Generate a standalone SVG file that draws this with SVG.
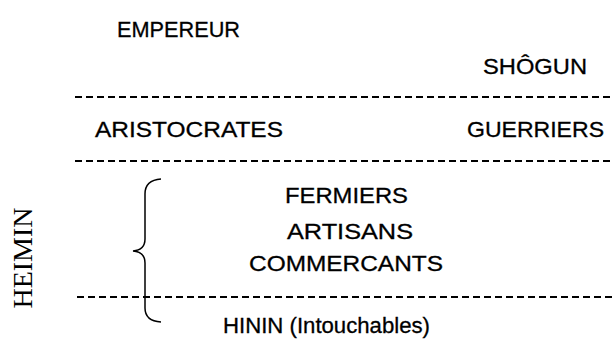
<svg xmlns="http://www.w3.org/2000/svg" width="614" height="340" viewBox="0 0 614 340">
  <style>
    .t { font-family: "Liberation Sans", "DejaVu Sans", sans-serif; font-size: 22px; fill: #000; stroke: #000; stroke-width: 0.3; }
    .s { font-family: "Liberation Serif", "DejaVu Serif", serif; font-size: 28px; fill: #000; }
    .dash { stroke: #000; stroke-width: 2; stroke-dasharray: 7 4; fill: none; }
    .brace { stroke: #000; stroke-width: 1.5; fill: none; }
  </style>
  <rect width="614" height="340" fill="#fff"/>
  <g id="connectors">
    <line class="dash" x1="75" y1="97" x2="614" y2="97"/>
    <line class="dash" x1="75" y1="161" x2="614" y2="161"/>
    <line class="dash" x1="77" y1="297" x2="614" y2="297"/>
    <path class="brace" d="M161,179 Q145,180 145,194 L145,239 Q145,250 133,251 Q145,252 145,263 L145,308 Q145,321 161,322"/>
  </g>
  <g id="empereur"><text class="t" x="117" y="37" textLength="123" lengthAdjust="spacingAndGlyphs">EMPEREUR</text></g>
  <g id="shogun"><text class="t" x="483" y="74" textLength="104" lengthAdjust="spacingAndGlyphs">SHÔGUN</text></g>
  <g id="aristocrates"><text class="t" x="95" y="137" textLength="188" lengthAdjust="spacingAndGlyphs">ARISTOCRATES</text></g>
  <g id="guerriers"><text class="t" x="467" y="137" textLength="137" lengthAdjust="spacingAndGlyphs">GUERRIERS</text></g>
  <g id="fermiers"><text class="t" x="285" y="203" textLength="123" lengthAdjust="spacingAndGlyphs">FERMIERS</text></g>
  <g id="artisans"><text class="t" x="287" y="239" textLength="126" lengthAdjust="spacingAndGlyphs">ARTISANS</text></g>
  <g id="commercants"><text class="t" x="249" y="271" textLength="194" lengthAdjust="spacingAndGlyphs">COMMERCANTS</text></g>
  <g id="hinin"><text class="t" x="223" y="333" textLength="207" lengthAdjust="spacingAndGlyphs">HININ (Intouchables)</text></g>
  <g id="heimin"><text class="s" transform="translate(32,258) rotate(-90)" text-anchor="middle">HEIMIN</text></g>
</svg>
